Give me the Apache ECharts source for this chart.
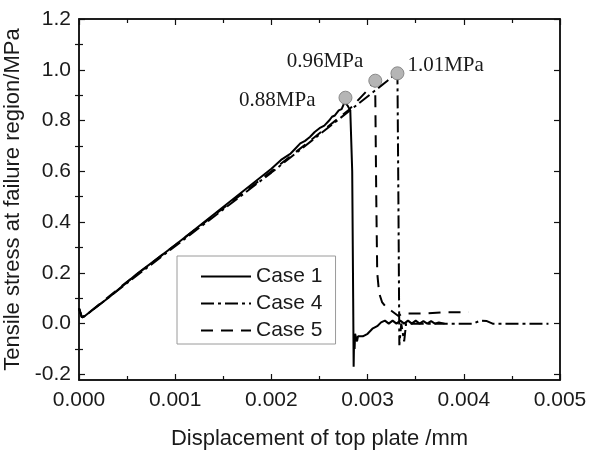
<!DOCTYPE html>
<html lang="en">
<head>
    <meta charset="UTF-8">
    <title>Tensile stress</title>
    <script src="https://cdn.jsdelivr.net/npm/echarts@6/dist/echarts.min.js"></script>
    <style>
        html, body { margin: 0; padding: 0; background: #fff; }
        #chart { width: 589px; height: 450px; }
    </style>
</head>
<body>
<div id="chart"></div>
<script type="text/javascript">
    // values
    var case1X = [0, 0.00003, 0.00006, 0.0003, 0.0006, 0.001, 0.0014, 0.0018, 0.002, 0.0021, 0.0022, 0.00225, 0.0023, 0.00235,
        0.0024, 0.00245, 0.0025, 0.00255, 0.0026, 0.00263, 0.00266, 0.0027, 0.00273, 0.00276, 0.00279, 0.00282, 0.00284, 0.00285,
        0.002855, 0.00286, 0.002865, 0.00287, 0.00289, 0.0029, 0.00295, 0.003, 0.00305, 0.0031, 0.00314, 0.00318, 0.00322,
        0.00326, 0.0033, 0.00334, 0.00338, 0.00342, 0.00346, 0.0035, 0.00354, 0.00358, 0.00362, 0.00366, 0.0037, 0.00374, 0.0038];
    var case1Y = [0.06, 0.025, 0.03, 0.1, 0.195, 0.31, 0.43, 0.55, 0.61, 0.645, 0.67, 0.69, 0.71, 0.72,
        0.735, 0.755, 0.77, 0.78, 0.8, 0.815, 0.82, 0.84, 0.845, 0.872, 0.86, 0.84, 0.6, 0.1,
        -0.17, -0.05, -0.1, -0.04, -0.07, -0.05, -0.05, -0.04, -0.02, -0.01, 0.005, 0.012,
        0.0, 0.012, 0.0, 0.012, 0.0, 0.012, 0.0, 0.012, 0.0, 0.01, 0.0, 0.01, 0.0, 0.005, 0.0];

    var case4X = [0, 0.00003, 0.00006, 0.0005, 0.001, 0.0015, 0.002, 0.0025, 0.0028, 0.003, 0.0032, 0.00331, 0.00332,
        0.00333, 0.00335, 0.00338, 0.0034, 0.0041, 0.00417, 0.00424, 0.0043, 0.00488];
    var case4Y = [0.06, 0.025, 0.03, 0.16, 0.305, 0.45, 0.595, 0.745, 0.835, 0.895, 0.955, 0.99, 0.5,
        -0.085, 0.0, -0.07, 0.0, 0.0, 0.012, 0.01, 0.0, 0.0];

    var case5X = [0, 0.00003, 0.00006, 0.0005, 0.001, 0.0015, 0.002, 0.0025, 0.0028, 0.003, 0.00307, 0.00308, 0.00309,
        0.0031, 0.00312, 0.00315, 0.00318, 0.00325, 0.00332, 0.00336, 0.0036, 0.0038, 0.00405];
    var case5Y = [0.06, 0.025, 0.03, 0.165, 0.31, 0.455, 0.6, 0.75, 0.84, 0.92, 0.955, 0.9, 0.5,
        0.2, 0.12, 0.085, 0.07, 0.05, 0.03, 0.04, 0.04, 0.045, 0.045];

    var peakX = [0.00277, 0.00308, 0.00331];
    var peakY = [0.89, 0.957, 0.986];
    var peakLabels = ['0.88MPa', '0.96MPa', '1.01MPa'];

    var yTicks = [-0.2, 0, 0.2, 0.4, 0.6, 0.8, 1.0, 1.2];
    var yMinorTicks = [-0.1, 0.1, 0.3, 0.5, 0.7, 0.9, 1.1];

    function zip(xs, ys) {
        return xs.map(function (x, i) { return [x, ys[i]]; });
    }

    var font = 'Liberation Sans, Arial, sans-serif';
    var axisColor = '#111';

    // where each peak label sits round its circle
    var labelPlace = [
        {position: 'left', distance: 23, offset: [0, 3]},
        {position: 'left', distance: 5, offset: [0, -19]},
        {position: 'right', distance: 3, offset: [0, -8]}
    ];

    var peakData = peakX.map(function (x, i) {
        return {
            value: [x, peakY[i]],
            label: {
                show: true,
                formatter: peakLabels[i],
                position: labelPlace[i].position,
                distance: labelPlace[i].distance,
                offset: labelPlace[i].offset,
                fontFamily: 'Liberation Serif, Times New Roman, serif',
                fontSize: 21,
                color: '#1a1a1a'
            }
        };
    });

    function lineSeries(name, data, type) {
        return {
            name: name,
            type: 'line',
            data: data,
            showSymbol: false,
            symbol: 'none',
            color: '#000',
            lineStyle: {color: '#000', width: 2, type: type},
            z: 2
        };
    }

    var tickStyle = {color: axisColor, width: 1.2};

    var option = {
        animation: false,
        backgroundColor: '#fff',
        grid: {
            left: 79, right: 29, top: 19, bottom: 70,
            containLabel: false, outerBoundsMode: 'none',
            show: true, borderColor: axisColor, borderWidth: 1.5
        },
        legend: {
            left: 177,
            top: 256,
            orient: 'vertical',
            data: ['Case 1', 'Case 4', 'Case 5'],
            itemWidth: 50,
            itemHeight: 21,
            itemGap: 6,
            padding: [10, 13, 3, 23],
            borderColor: '#9a9a9a',
            borderWidth: 1,
            borderRadius: 0,
            itemStyle: {opacity: 0},
            textStyle: {fontFamily: font, fontSize: 21, color: '#1a1a1a'}
        },
        xAxis: [{
            type: 'value',
            min: 0,
            max: 0.005,
            interval: 0.001,
            name: 'Displacement of top plate /mm',
            nameLocation: 'middle',
            nameGap: 48,
            nameTextStyle: {fontFamily: font, fontSize: 22, color: '#1a1a1a'},
            splitLine: {show: false},
            axisLine: {show: true, onZero: false, lineStyle: {color: axisColor, width: 1.5}},
            axisTick: {show: true, inside: true, length: 6, lineStyle: tickStyle},
            minorTick: {show: true, splitNumber: 2, length: 4, lineStyle: tickStyle},
            axisLabel: {
                margin: 10,
                fontFamily: font,
                fontSize: 21,
                color: '#1a1a1a',
                formatter: function (v) { return v.toFixed(3); }
            }
        }, {
            type: 'value',
            position: 'top',
            min: 0,
            max: 0.005,
            interval: 0.001,
            splitLine: {show: false},
            axisLine: {show: true, onZero: false, lineStyle: {color: axisColor, width: 1.5}},
            axisTick: {show: true, inside: true, length: 6, lineStyle: tickStyle},
            minorTick: {show: true, splitNumber: 2, length: 4, lineStyle: tickStyle},
            axisLabel: {show: false}
        }],
        yAxis: [{
            type: 'value',
            position: 'left',
            min: -0.222,
            max: 1.2,
            name: 'Tensile stress at failure region/MPa',
            nameLocation: 'middle',
            nameGap: 45,
            nameTextStyle: {fontFamily: font, fontSize: 22, color: '#1a1a1a'},
            splitLine: {show: false},
            axisLine: {show: true, onZero: false, lineStyle: {color: axisColor, width: 1.5}},
            axisTick: {show: true, inside: true, length: 6, lineStyle: tickStyle, customValues: yTicks},
            axisLabel: {
                customValues: yTicks, margin: 8,
                fontFamily: font, fontSize: 21, color: '#1a1a1a',
                formatter: function (v) { return v.toFixed(1); }
            }
        }, {
            type: 'value',
            position: 'right',
            min: -0.222,
            max: 1.2,
            splitLine: {show: false},
            axisLine: {show: true, onZero: false, lineStyle: {color: axisColor, width: 1.5}},
            axisTick: {show: true, inside: true, length: 6, lineStyle: tickStyle, customValues: yTicks},
            axisLabel: {show: false, customValues: yTicks}
        }, {
            type: 'value',
            position: 'left',
            offset: 0,
            min: -0.222,
            max: 1.2,
            splitLine: {show: false},
            axisLine: {show: false},
            axisTick: {show: true, inside: true, length: 4, lineStyle: tickStyle, customValues: yMinorTicks},
            axisLabel: {show: false, customValues: yMinorTicks}
        }, {
            type: 'value',
            position: 'right',
            offset: 0,
            min: -0.222,
            max: 1.2,
            splitLine: {show: false},
            axisLine: {show: false},
            axisTick: {show: true, inside: true, length: 4, lineStyle: tickStyle, customValues: yMinorTicks},
            axisLabel: {show: false, customValues: yMinorTicks}
        }],
        series: [
            lineSeries('Case 1', zip(case1X, case1Y), 'solid'),
            lineSeries('Case 4', zip(case4X, case4Y), [13, 4, 3, 4]),
            lineSeries('Case 5', zip(case5X, case5Y), [12, 8]),
            {
                name: 'peaks',
                type: 'scatter',
                data: peakData,
                symbolSize: 13,
                itemStyle: {color: '#b5b5b5', borderColor: '#8a8a8a', borderWidth: 1, opacity: 1},
                z: 5
            }
        ]
    };

    var myChart = echarts.init(document.getElementById('chart'));
    myChart.setOption(option);
</script>
</body>
</html>
